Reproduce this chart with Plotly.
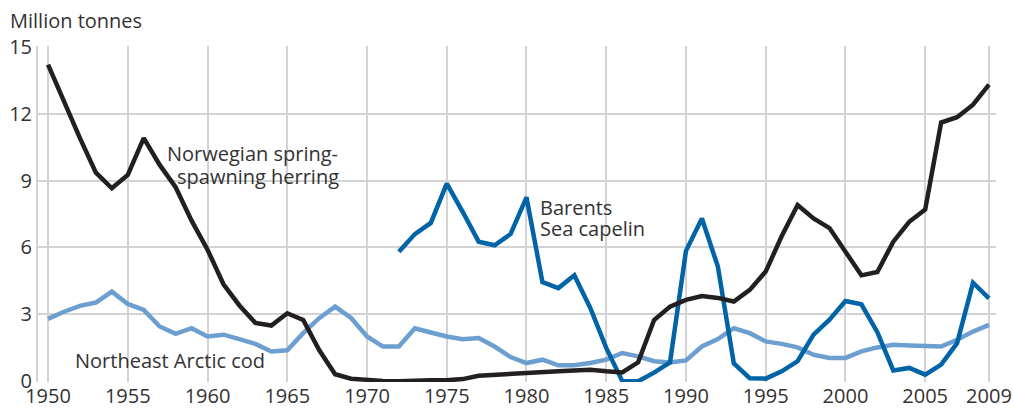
import plotly.graph_objects as go

years = list(range(1950, 2010))

herring = [14.2, 12.5, 10.9, 9.35, 8.65, 9.25, 10.9, 9.7, 8.7, 7.2,
           5.9, 4.35, 3.4, 2.62, 2.5, 3.05, 2.75, 1.4, 0.32, 0.12,
           0.05, 0.02, 0.0, 0.05, 0.05, 0.05, 0.1, 0.25, 0.3, 0.33,
           0.4, 0.45, 0.45, 0.48, 0.52, 0.45, 0.4, 0.85, 2.75, 3.35,
           3.65, 3.82, 3.74, 3.58, 4.1, 4.92, 6.5, 7.9, 7.3, 6.87,
           5.85, 4.75, 4.9, 6.26, 7.15, 7.7, 11.6, 11.84, 12.4, 13.3]

capelin_years = list(range(1972, 2010))
capelin = [5.81, 6.6, 7.1, 8.86, 7.6, 6.26, 6.1, 6.6, 8.25, 4.45,
           4.18, 4.75, 3.29, 1.5, 0.02, 0.0, 0.39, 0.85, 5.85, 7.3,
           5.14, 0.8, 0.14, 0.12, 0.45, 0.9, 2.09, 2.76, 3.6, 3.45,
           2.2, 0.49, 0.6, 0.3, 0.75, 1.71, 4.42, 3.72]

cod = [2.8, 3.12, 3.38, 3.53, 4.02, 3.47, 3.2, 2.46, 2.13, 2.38,
       2.01, 2.09, 1.89, 1.68, 1.34, 1.39, 2.16, 2.83, 3.35, 2.84,
       2.01, 1.56, 1.56, 2.38, 2.19, 2.01, 1.89, 1.94, 1.56, 1.09,
       0.82, 0.97, 0.72, 0.72, 0.82, 0.97, 1.27, 1.12, 0.9, 0.85,
       0.94, 1.56, 1.89, 2.38, 2.16, 1.79, 1.68, 1.52, 1.19, 1.05,
       1.05, 1.34, 1.52, 1.64, 1.61, 1.61, 1.56, 1.86, 2.23, 2.53]

x_ticks = [1950, 1955, 1960, 1965, 1970, 1975, 1980, 1985, 1990, 1995, 2000, 2005, 2009]
y_ticks = [0, 3, 6, 9, 12, 15]

GRID = "#d3d3d5"
TEXT = "#333333"
FONT = "Open Sans"

fig = go.Figure()
fig.add_trace(go.Scatter(x=years, y=cod, mode="lines",
                         line=dict(color="#6c9fd0", width=4.5), hoverinfo="skip"))
fig.add_trace(go.Scatter(x=capelin_years, y=capelin, mode="lines",
                         line=dict(color="#0064a6", width=4.5), hoverinfo="skip"))
fig.add_trace(go.Scatter(x=years, y=herring, mode="lines",
                         line=dict(color="#231f20", width=4.5), hoverinfo="skip"))

ann_font = dict(family=FONT, size=20, color=TEXT)
annotations = [
    dict(text="Million tonnes", xref="paper", yref="paper", x=-30/958, y=1 + 26/336,
         xanchor="left", yanchor="middle", showarrow=False, font=ann_font),
    dict(text="Norwegian spring-", x=1957.34, y=10.2, xanchor="left", yanchor="middle",
         showarrow=False, font=ann_font),
    dict(text="spawning herring", x=1968.4, y=9.2, xanchor="right", yanchor="middle",
         showarrow=False, font=ann_font),
    dict(text="Barents", x=1980.72, y=7.8, xanchor="left", yanchor="middle",
         showarrow=False, font=ann_font),
    dict(text="Sea capelin", x=1980.72, y=6.85, xanchor="left", yanchor="middle",
         showarrow=False, font=ann_font),
    dict(text="Northeast Arctic cod", x=1951.57, y=0.95, xanchor="left", yanchor="middle",
         showarrow=False, font=ann_font),
]

fig.update_layout(
    width=1014, height=409,
    margin=dict(l=38, r=18, t=46, b=27),
    paper_bgcolor="white", plot_bgcolor="white",
    showlegend=False,
    annotations=annotations,
    font=dict(family=FONT, color=TEXT),
)
fig.update_xaxes(range=[1949.37, 2009.44], tickvals=x_ticks,
                 ticktext=[str(v) for v in x_ticks], automargin=False,
                 showgrid=True, gridcolor=GRID, gridwidth=2, zeroline=False,
                 showline=False, ticks="", tickfont=dict(family=FONT, size=20, color=TEXT))
fig.update_yaxes(range=[-0.03, 15.03], tickvals=y_ticks, automargin=False,
                 showgrid=True, gridcolor=GRID, gridwidth=2, zeroline=False,
                 showline=True, linecolor=GRID, linewidth=2, ticks="",
                 tickfont=dict(family=FONT, size=20, color=TEXT))

fig.write_html("out.html",
               config={"displayModeBar": False},
               post_script="document.body.style.margin='0';document.body.style.padding='0';"
                           "document.body.style.overflow='hidden';")
